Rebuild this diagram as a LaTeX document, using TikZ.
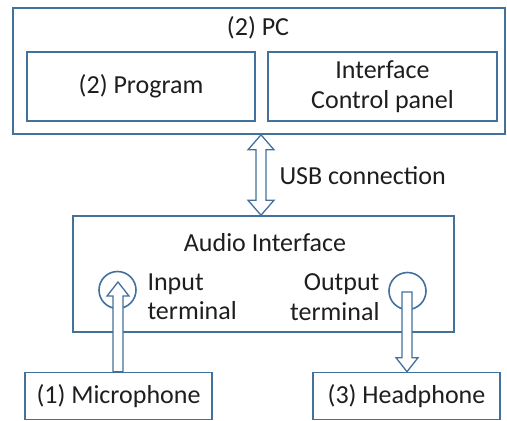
\documentclass[tikz,border=0pt]{standalone}
\usepackage{fontspec}
\setmainfont{Carlito}
\usepackage{tikz}
\usetikzlibrary{calc}
\definecolor{boxblue}{RGB}{65,113,156}
\definecolor{inkgray}{RGB}{30,30,30}

\begin{document}
\begin{tikzpicture}[x=1pt, y=-1pt,
    every node/.style={font=\fontsize{26}{29.5}\selectfont, text=inkgray},
    box/.style={draw=boxblue, line width=1.6pt, rectangle},
    jack/.style={draw=boxblue, line width=1.6pt, circle, minimum size=37pt, inner sep=0pt},
    hollowarrow/.style={draw=boxblue, line width=1.3pt, fill=white, to path={
        let \p1=(\tikztostart), \p2=(\tikztotarget),
            \p3=($(\tikztotarget)!14pt!(\tikztostart)$) in
        (\x1-5pt,\y1) -- (\x1-5pt,\y3) -- (\x1-11pt,\y3) -- (\x2,\y2)
        -- (\x1+11pt,\y3) -- (\x1+5pt,\y3) -- (\x1+5pt,\y1) -- cycle}},
    hollowboth/.style={draw=boxblue, line width=1.3pt, fill=white, to path={
        let \p1=(\tikztostart), \p2=(\tikztotarget),
            \p3=($(\tikztotarget)!15pt!(\tikztostart)$),
            \p4=($(\tikztostart)!15pt!(\tikztotarget)$) in
        (\x1,\y1) -- (\x1+13pt,\y4) -- (\x1+5pt,\y4) -- (\x1+5pt,\y3)
        -- (\x1+13pt,\y3) -- (\x2,\y2) -- (\x1-13pt,\y3) -- (\x1-5pt,\y3)
        -- (\x1-5pt,\y4) -- (\x1-13pt,\y4) -- cycle}}]

    \useasboundingbox (0,0) rectangle (507,421);

    % PC side
    \node[box, minimum width=492pt, minimum height=126pt] (pc) at (259,71) {};
    \node (pclabel) at (258,28) {(2) PC};
    \node[box, minimum width=228pt, minimum height=69pt] (program) at (141,86.5) {(2) Program};
    \node[box, minimum width=229pt, minimum height=69pt, align=center] (panel) at (382.5,86.5) {Interface\\Control panel};

    % audio interface
    \node[box, minimum width=381pt, minimum height=116pt] (audio) at (263.5,274) {};
    \node (audiolabel) at (265,243) {Audio Interface};
    \node[jack] (injack) at (117.5,290) {};
    \node[jack] (outjack) at (407.5,291) {};
    \node[anchor=west, align=left] (intext) at (144,297) {Input\\terminal};
    \node[anchor=east, align=right] (outtext) at (383,297) {Output\\terminal};

    % devices
    \node[box, minimum width=187pt, minimum height=47pt] (mic) at (118.5,396) {(1) Microphone};
    \node[box, minimum width=187pt, minimum height=47pt] (phone) at (406.5,396) {(3) Headphone};

    \coordinate (usb) at (261,0);
    \coordinate (intip) at (118,282);
    \coordinate (outstart) at (407,292);

    \draw[hollowboth] (pc.south -| usb) to (audio.north -| usb);
    \node[anchor=west] (usblabel) at (276,176) {USB connection};
    \draw[hollowarrow] (mic.north -| intip) to (intip);
    \draw[hollowarrow] (outstart) to (phone.north -| outstart);
\end{tikzpicture}
\end{document}
